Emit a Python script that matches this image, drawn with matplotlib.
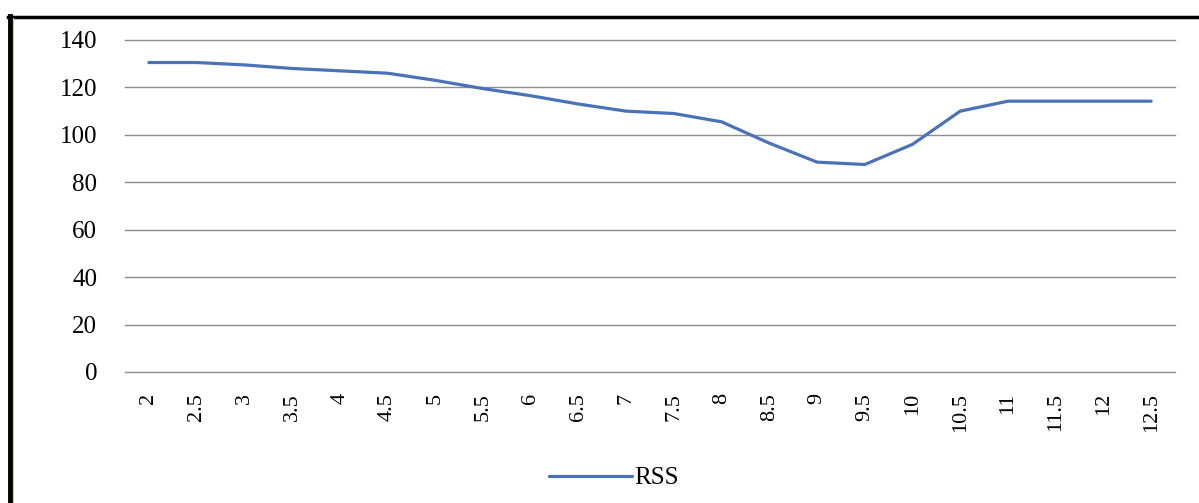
import matplotlib.pyplot as plt
from matplotlib.lines import Line2D
import numpy as np

LINE_COLOR = '#4a72b8'
GRID_COLOR = '#8e8e8e'

categories = ['2', '2.5', '3', '3.5', '4', '4.5', '5', '5.5', '6', '6.5', '7',
              '7.5', '8', '8.5', '9', '9.5', '10', '10.5', '11', '11.5', '12', '12.5']
rss = [130.5, 130.5, 129.5, 128, 127, 126, 123, 119.5, 116.5, 113, 110,
       109, 105.5, 96.5, 88.5, 87.5, 96, 110, 114.2, 114.2, 114.2, 114.2]
yticks = [0, 20, 40, 60, 80, 100, 120, 140]

plt.rcParams['font.family'] = ['Liberation Serif', 'DejaVu Serif']

fig = plt.figure(figsize=(11.99, 5.03), dpi=100)
ax = fig.add_axes([125/1199, 1-372/503, 1050/1199, 332/503])

x = np.arange(len(categories))
ax.plot(x, rss, color=LINE_COLOR, lw=2.3, label='RSS', solid_capstyle='round')

ax.set_xlim(-0.5, len(categories)-0.5)
ax.set_ylim(0, 140)
ax.set_yticks(yticks)
ax.set_xticks(x)
ax.set_xticklabels(categories, rotation=90, va='top', ha='center')
ax.tick_params(axis='y', length=0, pad=20, labelsize=18)
ax.tick_params(axis='x', length=0, pad=15, labelsize=16)
for t in yticks:
    ax.axhline(t, color=GRID_COLOR, lw=1, zorder=0, clip_on=False)
for s in ax.spines.values():
    s.set_visible(False)

fig.legend(loc='center', bbox_to_anchor=(0.512, 1-478/503), frameon=False,
           fontsize=18, handlelength=3.3, handletextpad=0.1)

# frame drawn around the chart
fig.add_artist(Line2D([8/1199, 1], [1-17/503]*2, color='black', lw=2.5,
                      transform=fig.transFigure))
fig.add_artist(Line2D([10/1199]*2, [0, 1-16/503], color='black', lw=3.5,
                      transform=fig.transFigure))
fig.add_artist(Line2D([13/1199]*2, [0, 1-18/503], color='#e8d800', lw=0.8,
                      transform=fig.transFigure))

fig.savefig('out.png', dpi=100)
